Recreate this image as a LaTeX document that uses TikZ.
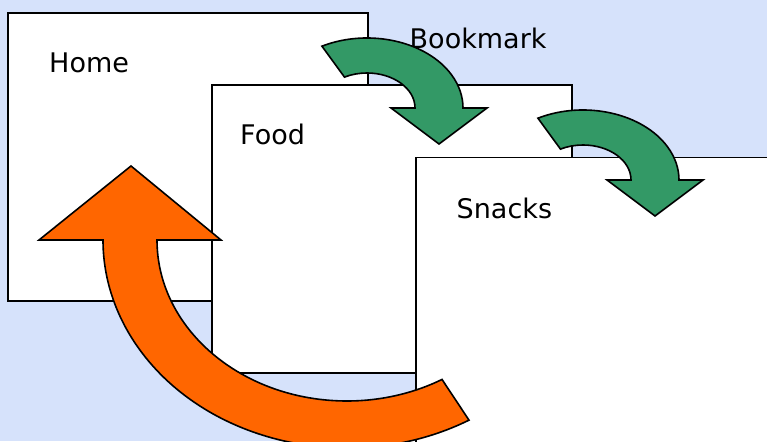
\documentclass[tikz,border=0pt]{standalone}
\usepackage{fontspec}
\setmainfont{DejaVu Sans}
\definecolor{bgblue}{RGB}{214,226,251}
\definecolor{arrgreen}{RGB}{51,153,102}
\definecolor{arrorange}{RGB}{255,102,0}
\begin{document}
\begin{tikzpicture}[x=1pt,y=1pt,
  page/.style={draw=black,line width=1.6pt,fill=white,rectangle,inner sep=0pt,
    minimum width=360pt,minimum height=288pt,anchor=north west},
  label/.style={inner sep=0pt,anchor=base west,font=\fontsize{27}{32}\selectfont},
  greenarrow/.style={draw=black,line width=1.6pt,fill=arrgreen,line join=miter},
  orangearrow/.style={draw=black,line width=1.6pt,fill=arrorange,line join=miter}]
\useasboundingbox (0,0) rectangle (767,441);
\clip (0,0) rectangle (767,441);
\fill[bgblue] (0,0) rectangle (767,441);
% pages
\node[page] (home) at (7,429) {};
\node[page] (food) at (211,357) {};
\node[page] (snacks) at (415,284.3) {};
% labels
\node[label] (homet) at (49,368.7) {Home};
\node[label] (foodt) at (240,296.7) {Food};
\node[label] (snackst) at (456.5,222.7) {Snacks};
\node[label] (bookt) at (409.5,392.7) {Bookmark};
% green arrows
\begin{scope}[shift={(367,333)}]
\draw[greenarrow] (118:96pt and 70pt)
  arc[start angle=118,end angle=0,x radius=96pt,y radius=70pt]
  -- (120,0) -- (72,-36) -- (24,0) -- (48,0)
  arc[start angle=0,end angle=118,x radius=48pt,y radius=35pt] -- cycle;
\end{scope}
\begin{scope}[shift={(583,261)}]
\draw[greenarrow] (118:96pt and 70pt)
  arc[start angle=118,end angle=0,x radius=96pt,y radius=70pt]
  -- (120,0) -- (72,-36) -- (24,0) -- (48,0)
  arc[start angle=0,end angle=118,x radius=48pt,y radius=35pt] -- cycle;
\end{scope}
% orange arrow
\begin{scope}[shift={(347,201)}]
\draw[orangearrow] (-216,74) -- (-126,0) -- (-190,0)
  arc[start angle=180,end angle=300,x radius=190pt,y radius=161pt]
  -- (300:244pt and 208pt)
  arc[start angle=300,end angle=180,x radius=244pt,y radius=208pt]
  -- (-308,0) -- cycle;
\end{scope}
\end{tikzpicture}
\end{document}
